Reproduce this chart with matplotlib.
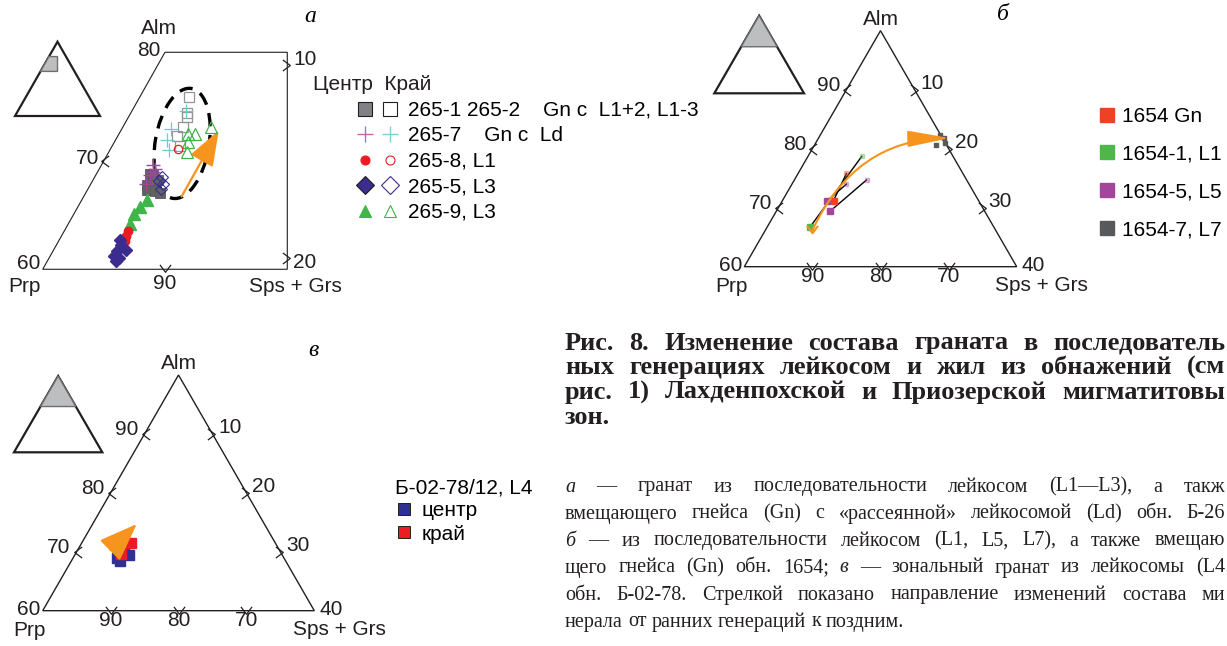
import numpy as np
import matplotlib.pyplot as plt
from matplotlib.path import Path
from matplotlib.lines import Line2D
from matplotlib.patches import Polygon, Ellipse, FancyArrowPatch
from matplotlib.legend_handler import HandlerTuple

plt.rcParams['font.family'] = ['Liberation Sans', 'DejaVu Sans']
plt.rcParams['font.size'] = 15
SERIF = ['Liberation Serif', 'DejaVu Serif']

W, H = 1227, 646
INK = '#231f20'
ORANGE = '#f7941d'

# garnet compositions, mol.%: Alm and Sps+Grs (Prp by difference)
# a) outcrop 265
gn_core_alm = [68.8, 68.7, 68.2, 67.8, 67.3, 67.3, 67.2, 67.0]
gn_core_sps = [4.4, 4.7, 5.3, 4.6, 4.9, 5.1, 5.6, 6.1]
gn_rim_alm = [75.9, 74.4, 74.0, 73.1, 72.3, 71.4]
gn_rim_sps = [4.0, 4.6, 4.8, 4.9, 4.8, 5.5]
ld_core_alm = [69.6, 69.2, 69.0, 68.7, 67.9]
ld_core_sps = [4.2, 4.6, 4.5, 4.4, 4.5]
ld_rim_alm = [74.6, 72.9, 71.9, 71.0]
ld_rim_sps = [4.4, 4.0, 4.2, 4.8]
l1_core_alm = [63.5, 63.1, 62.9, 62.6]
l1_core_sps = [5.2, 5.3, 5.3, 5.4]
l1_rim_alm = [71.1]
l1_rim_sps = [5.5]
l3a_core_alm = [62.7, 62.2, 61.8, 61.7, 61.2, 61.0, 60.8]
l3a_core_sps = [5.0, 5.3, 5.9, 5.2, 5.2, 5.7, 5.6]
l3a_rim_alm = [68.5, 68.1, 67.9, 67.4]
l3a_rim_sps = [5.5, 5.5, 5.9, 6.0]
l3b_core_alm = [66.4, 65.7, 65.1, 64.2]
l3b_core_sps = [5.3, 5.1, 4.9, 5.0]
l3b_rim_alm = [73.1, 72.5, 72.5, 71.7, 70.8]
l3b_rim_sps = [7.2, 5.6, 6.2, 6.0, 6.4]
field_a = dict(alm=71.6, sps=5.6, major=8.9, minor=4.4, angle=80)
trend_a = [(66.7, 8.0), (72.8, 8.0)]

# b) outcrop 1654, core -> rim pairs
b_labels = ['1654 Gn', '1654-1, L1', '1654-5, L5', '1654-7, L7']
b_colors = ['#ef4123', '#4db848', '#a3459b', '#58595b']
b_core_alm = [[71.2], [66.8], [71.2, 69.4], []]
b_core_sps = [[7.5], [6.3], [6.6, 7.9], []]
b_rim_alm = [[75.8], [78.7], [74.0, 74.7], [82.3, 80.6, 81.0, 81.8]]
b_rim_sps = [[7.1], [7.9], [8.0, 10.6], [17.6, 17.8, 18.9, 18.4]]
trend_b = [(66.2, 6.9), (81.5, 5.5), (81.8, 19.3)]

# c) sample B-02-78/12
c_core_alm = [69.8, 69.5, 69.0, 68.4]
c_core_sps = [7.0, 7.9, 6.5, 7.2]
c_rim_alm = [71.5, 69.6]
c_rim_sps = [7.3, 6.7]
trend_c = [(70.3, 4.8), (74.7, 6.5)]

alm_ticks = [70, 80, 90]
sps_ticks = [10, 20, 30]


def tern(alm, sps):
    alm = np.asarray(alm, dtype=float)
    sps = np.asarray(sps, dtype=float)
    return sps + alm / 2., alm * np.sqrt(3) / 2.


def px_axes(left, right, top, bottom, xlim, ylim):
    ax = fig.add_axes([left / W, 1 - bottom / H, (right - left) / W, (bottom - top) / H])
    ax.set_xlim(*xlim)
    ax.set_ylim(*ylim)
    ax.set_axis_off()
    return ax


def chevron(pts):
    return Path(pts, [Path.MOVETO, Path.LINETO, Path.LINETO])


CHEV_L = chevron([(0.5, 0.6), (-0.3, 0.), (0.5, -0.6)])
CHEV_R = chevron([(-0.5, 0.6), (0.3, 0.), (-0.5, -0.6)])
CHEV_D = chevron([(-0.6, 0.5), (0., -0.3), (0.6, 0.5)])


def ticks(ax, alm, sps, marker):
    x, y = tern(alm, sps)
    ax.plot(x, y, ls='', marker=marker, ms=8, mfc='none', mec=INK, mew=0.9, clip_on=False)


def label(ax, alm, sps, text, dx, dy, ha='center', va='center', **kw):
    ax.annotate(text, tern(alm, sps), xytext=(dx * 0.72, dy * 0.72),
                textcoords='offset points', ha=ha, va=va, color=INK, **kw)


def inset(left, right, top, bottom, region):
    ax = px_axes(left, right, top, bottom, (0, 100), (0, 100 * np.sqrt(3) / 2))
    x, y = tern([0, 100, 0], [0, 0, 100])
    ax.add_patch(Polygon(np.c_[x, y], closed=True, fc='none', ec=INK, lw=1.6, clip_on=False))
    x, y = tern(*region)
    ax.add_patch(Polygon(np.c_[x, y], closed=True, fc='#bcbec0', ec='#6d6e71', lw=1.0,
                         clip_on=False))


def full_panel(ax):
    x, y = tern([60, 100, 60], [0, 0, 40])
    ax.add_patch(Polygon(np.c_[x, y], closed=True, fc='none', ec=INK, lw=1.0, clip_on=False))
    ticks(ax, alm_ticks, [0] * 3, CHEV_L)
    ticks(ax, [100 - s for s in sps_ticks], sps_ticks, CHEV_R)
    ticks(ax, [60] * 3, sps_ticks, CHEV_D)
    for a in alm_ticks:
        label(ax, a, 0, str(a), -6, 4, ha='right')
    for s in sps_ticks:
        label(ax, 100 - s, s, str(s), 6, 6, ha='left')
        label(ax, 60, s, str(100 - s), 0, -10)
    label(ax, 60, 0, '60', -2, 1, ha='right')
    label(ax, 60, 40, '40', 5, 1, ha='left')
    label(ax, 60, 0, 'Prp', -13, -20)
    label(ax, 60, 40, 'Sps + Grs', 25, -19)
    label(ax, 100, 0, 'Alm', 0, 11)


fig = plt.figure(figsize=(W / 100, H / 100), dpi=100)

# ---------------- a ----------------
ax_a = px_axes(42.7, 287.3, 52.3, 269.3, (30, 50), (51.96, 69.28))
x, y = tern([60, 80, 80, 60], [0, 0, 10, 20])
ax_a.add_patch(Polygon(np.c_[x, y], closed=True, fc='none', ec=INK, lw=0.8, clip_on=False))
ticks(ax_a, [70], [0], CHEV_L)
ticks(ax_a, [60], [10], CHEV_D)
ticks(ax_a, [78.8, 61.0], [10.6, 19.5], CHEV_R)
label(ax_a, 80, 0, '80', -5, 2, ha='right')
label(ax_a, 70, 0, '70', -5, 2, ha='right')
label(ax_a, 60, 0, '60', -2, 6, ha='right')
label(ax_a, 60, 10, '90', 0, -14)
label(ax_a, 78.8, 10.6, '10', 6, 6, ha='left')
label(ax_a, 61.0, 19.5, '20', 6, -4, ha='left')
label(ax_a, 60, 0, 'Prp', -18, -17)
label(ax_a, 60, 20, 'Sps + Grs', 8, -17)
label(ax_a, 80, 0, 'Alm', -6, 24)

ex, ey = tern(field_a['alm'], field_a['sps'])
ax_a.add_patch(Ellipse((ex, ey), field_a['major'], field_a['minor'], angle=field_a['angle'],
                       fc='none', ec='black', lw=2.4, ls=(0, (4, 2.6)), clip_on=False))

mk = dict(ls='', clip_on=False)
ax_a.plot(*tern(gn_rim_alm, gn_rim_sps), marker='s', ms=7, mfc='none', mec='#939598', mew=0.9, **mk)
ax_a.plot(*tern(ld_rim_alm, ld_rim_sps), marker='+', ms=10, mec='#6dcbd0', mew=0.9, **mk)
ax_a.plot(*tern(l3b_rim_alm, l3b_rim_sps), marker='^', ms=8, mfc='none', mec='#3fb54a', mew=0.9, **mk)
ax_a.plot(*tern(l1_rim_alm, l1_rim_sps), marker='o', ms=6, mfc='none', mec='#ed1c24', mew=0.9, **mk)
ax_a.plot(*tern(gn_core_alm, gn_core_sps), marker='s', ms=7, mfc='#616264', mec='#58595b', mew=0.6, **mk)
ax_a.plot(*tern(ld_core_alm, ld_core_sps), marker='+', ms=10, mec='#a3459b', mew=1.0, **mk)
ax_a.plot(*tern(l3a_rim_alm, l3a_rim_sps), marker='D', ms=6.5, mfc='none', mec='#3b2d8f', mew=0.8, **mk)
ax_a.plot(*tern(l3b_core_alm, l3b_core_sps), marker='^', ms=8, mfc='#3fb54a', mec='#3fb54a', **mk)
ax_a.plot(*tern(l1_core_alm, l1_core_sps), marker='o', ms=6, mfc='#ed1c24', mec='#ed1c24', **mk)
ax_a.plot(*tern(l3a_core_alm, l3a_core_sps), marker='D', ms=6, mfc='#3b2d8f', mec='#3b2d8f', **mk)

(a0, s0), (a1, s1) = trend_a
ax_a.add_patch(FancyArrowPatch(tern(a0, s0), tern(a1, s1), mutation_scale=1,
                               arrowstyle='-|>,head_length=22,head_width=8',
                               color=ORANGE, lw=1.6, shrinkA=0, shrinkB=0, clip_on=False))

inset(15, 100, 41.7, 116, ([60, 80, 80, 60], [0, 0, 10, 20]))
fig.text(310 / W, 1 - 16 / H, 'а', family=SERIF, style='italic', fontsize=17, ha='center', va='center')

fig.text(313 / W, 1 - 84 / H, 'Центр  Край', va='center', color=INK)


def pair(marker, ms, core, rim, mew=0.8):
    return (Line2D([], [], ls='', marker=marker, ms=ms, mew=mew, **core),
            Line2D([], [], ls='', marker=marker, ms=ms, mew=mew, **rim))


a_handles = [
    pair('s', 9.5, dict(mfc='#808285', mec=INK), dict(mfc='none', mec=INK)),
    pair('+', 11, dict(mec='#c165b0'), dict(mec='#7fcfd6'), mew=1.0),
    pair('o', 6.5, dict(mfc='#ed1c24', mec='#ed1c24'), dict(mfc='none', mec='#ed1c24')),
    pair('D', 9, dict(mfc='#3b2d8f', mec=INK), dict(mfc='none', mec='#3b2d8f')),
    pair('^', 9, dict(mfc='#3fb54a', mec='#3fb54a'), dict(mfc='none', mec='#3fb54a')),
]
a_labels = ['265-1 265-2    Gn с  L1+2, L1-3', '265-7    Gn с  Ld', '265-8, L1', '265-5, L3', '265-9, L3']
fig.legend(a_handles, a_labels, handler_map={tuple: HandlerTuple(ndivide=None, pad=0.)},
           loc='upper left', bbox_to_anchor=(352 / W, 1 - 101 / H), frameon=False,
           handlelength=2.4, handletextpad=0.27, labelspacing=0.31, borderpad=0,
           borderaxespad=0, fontsize=15)

# ---------------- б ----------------
ax_b = px_axes(744.3, 1016.7, 30.7, 266.7, (30, 70), (51.96, 86.60))
full_panel(ax_b)
for ca, cs, ra, rs, col in zip(b_core_alm, b_core_sps, b_rim_alm, b_rim_sps, b_colors):
    for a0, s0, a1, s1 in zip(ca, cs, ra, rs):
        ax_b.plot(*tern([a0, a1], [s0, s1]), color='black', lw=1.0, zorder=2)
    ax_b.plot(*tern(ra, rs), ls='', marker='s', ms=3.5, color=col,
              alpha=1.0 if not ca else 0.35, zorder=3)
    ax_b.plot(*tern(ca, cs), ls='', marker='s', ms=4, color=col, zorder=3)

bx, by = tern(*zip(*trend_b))
ax_b.add_patch(FancyArrowPatch(path=Path(np.c_[bx, by], [Path.MOVETO, Path.CURVE3, Path.CURVE3]),
                               arrowstyle='-|>,head_length=26,head_width=5', mutation_scale=1,
                               color=ORANGE, lw=1.5, zorder=4))
ax_b.plot(bx[0], by[0], marker=CHEV_D, ms=8, mfc='none', mec=ORANGE, mew=1.5, zorder=4)

inset(714.3, 804, 15.7, 93.3, ([60, 100, 60], [0, 0, 40]))
fig.text(1003 / W, 1 - 15 / H, 'б', family=SERIF, style='italic', fontsize=17, ha='center', va='center')

b_handles = [Line2D([], [], ls='', marker='s', ms=10, color=c) for c in b_colors]
fig.legend(b_handles, b_labels, loc='upper left', bbox_to_anchor=(1096.3 / W, 1 - 107 / H),
           frameon=False, handlelength=1.0, handletextpad=0.22, labelspacing=0.9,
           borderpad=0, borderaxespad=0, fontsize=15)

# ---------------- в ----------------
ax_c = px_axes(42.7, 314.3, 375, 610.7, (30, 70), (51.96, 86.60))
full_panel(ax_c)
ax_c.plot(*tern(c_core_alm, c_core_sps), ls='', marker='s', ms=7, mfc='#2e3192', mec='#2e3192', zorder=3)
ax_c.plot(*tern(c_rim_alm, c_rim_sps), ls='', marker='s', ms=7, mfc='#ed1c24', mec='#ed1c24', zorder=3)
(a0, s0), (a1, s1) = trend_c
ax_c.add_patch(FancyArrowPatch(tern(a0, s0), tern(a1, s1), mutation_scale=1,
                               arrowstyle='-|>,head_length=24,head_width=9',
                               color=ORANGE, lw=1.6, shrinkA=0, shrinkB=0, zorder=4))

inset(14, 102.3, 376, 452.3, ([60, 100, 60], [0, 0, 40]))
fig.text(313 / W, 1 - 350 / H, 'в', family=SERIF, style='italic', fontsize=17, ha='center', va='center')

c_handles = [Line2D([], [], ls='', marker='s', ms=8.5, mfc=c, mec=INK, mew=0.7)
             for c in ['#2e3192', '#ed1c24']]
leg = fig.legend(c_handles, ['центр', 'край'], title='Б-02-78/12, L4', loc='upper left',
                 bbox_to_anchor=(394.6 / W, 1 - 478 / H), frameon=False, handlelength=0.9,
                 handletextpad=0.4, labelspacing=0.21, borderpad=0, borderaxespad=0,
                 fontsize=15, title_fontsize=15)
leg._legend_box.align = 'left'
leg._legend_box.sep = 3

# ---------------- caption (column runs past the right edge of the sheet) ----------------
title_lines = [
    'Рис. 8. Изменение состава граната в последователь',
    'ных генерациях лейкосом и жил из обнажений (см',
    'рис. 1) Лахденпохской и Приозерской мигматитовы',
    'зон.',
]
body_lines = [
    '*а — гранат из последовательности лейкосом (L1—L3), а такж',
    'вмещающего гнейса (Gn) с «рассеянной» лейкосомой (Ld) обн. Б-26',
    '*б — из последовательности лейкосом (L1, L5, L7), а также вмещаю',
    'щего гнейса (Gn) обн. 1654; *в — зональный гранат из лейкосомы (L4',
    'обн. Б-02-78. Стрелкой показано направление изменений состава ми',
    'нерала от ранних генераций к поздним.',
]


def set_lines(lines, x0, x1, y0, dy, size, weight):
    r = fig.canvas.get_renderer()
    space = 0.25 * size / 0.72
    for i, line in enumerate(lines):
        arts = []
        for w in line.split():
            style = 'normal'
            if w.startswith('*'):
                w, style = w[1:], 'italic'
            arts.append(fig.text(0, 1 - (y0 + i * dy) / H, w, family=SERIF, fontsize=size,
                                 weight=weight, style=style, va='center', color=INK))
        widths = [t.get_window_extent(r).width for t in arts]
        if i == len(lines) - 1:
            gap = space
        else:
            gap = max((x1 - x0 - sum(widths)) / (len(arts) - 1), 0.6 * space)
        x = x0
        for t, wd in zip(arts, widths):
            t.set_x(x / W)
            x += wd + gap


set_lines(title_lines, 565, 1225, 343, 24.7, 19, 'bold')
set_lines(body_lines, 565, 1225, 487, 27, 14.5, 'normal')

fig.savefig('out.png', dpi=100, facecolor='white')
